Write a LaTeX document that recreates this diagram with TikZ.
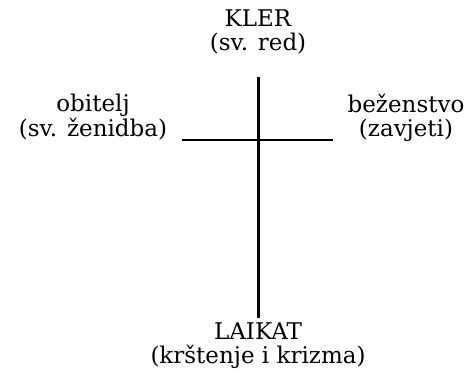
\documentclass[tikz,border=0pt]{standalone}
\usepackage{fontspec}
\setmainfont{DejaVu Serif}
\usepackage{tikz}
\tikzset{
    cross-label/.style = {align=center, inner sep=0pt, font=\fontsize{23}{23.5}\selectfont},
    cross-bar/.style = {draw=black, line width=3pt},
}

\begin{document}
\begin{tikzpicture}[x=1pt, y=-1pt]
\useasboundingbox (0,0) rectangle (470,373);
\node[cross-label, anchor=base] (kler) at (258,50) {KLER\\(sv. red)};
\node[cross-label, anchor=base] (obitelj) at (93,136) {obitelj\\(sv. ženidba)};
\node[cross-label, anchor=base] (bezenstvo) at (406,136) {beženstvo\\(zavjeti)};
\node[cross-label, anchor=base] (laikat) at (258,363) {LAIKAT\\(krštenje i krizma)};
\coordinate (top) at (258,77);
\coordinate (bottom) at (258,318);
\coordinate (left) at (182,140);
\coordinate (right) at (333,140);
\draw[cross-bar] (top) -- (bottom);
\draw[cross-bar, line width=2.5pt] (left) -- (right);
\end{tikzpicture}
\end{document}
